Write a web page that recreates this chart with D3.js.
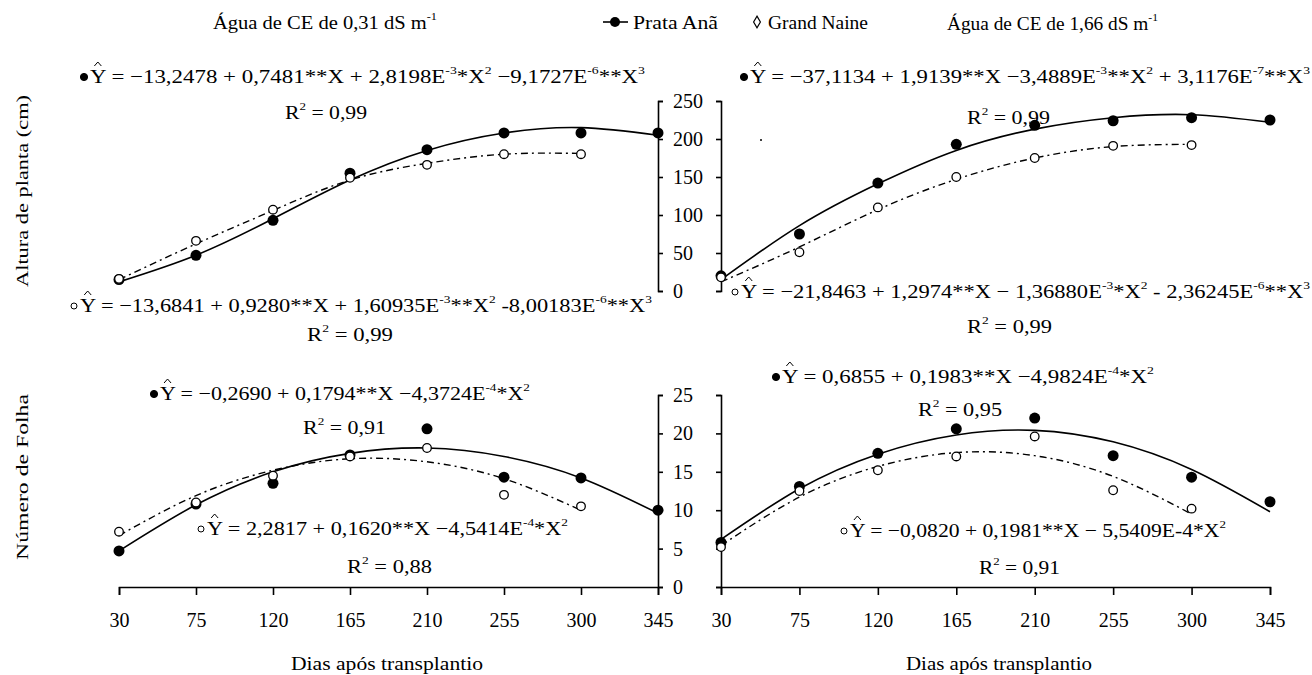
<!DOCTYPE html>
<html>
<head>
<meta charset="utf-8">
<script src="https://cdn.jsdelivr.net/npm/d3@7"></script>
<style>
body { margin: 0; background: #fff; }
svg { display: block; font-family: "Liberation Serif", "Times New Roman", serif; }
.axis path, .axis line { stroke: #000; stroke-width: 1.6; }
.axis text { font-size: 20px; fill: #000; font-family: "Liberation Serif", serif; }
</style>
</head>
<body>
<svg id="chart" width="1312" height="675"></svg>
<script>
// dias apos transplantio
var days = [30, 75, 120, 165, 210, 255, 300, 345];
var xTicks = [30, 75, 120, 165, 210, 255, 300, 345];
var alturaTicks = [0, 50, 100, 150, 200, 250];
var folhaTicks = [0, 5, 10, 15, 20, 25];

// Altura de planta, CE 0,31
var alturaPrata031 = [15, 47, 93, 155, 186, 208, 208, 208];
var alturaGrand031 = [16, 66, 107, 149, 166, 180, 180];
var fitAlturaPrata031 = [12, 47, 95, 146, 185, 208, 215, 205];
var fitAlturaGrand031 = [15, 62, 106, 146, 168, 180, 181];
// Altura de planta, CE 1,66
var alturaPrata166 = [20, 75, 142, 193, 218, 224, 228, 225];
var alturaGrand166 = [18, 51, 110, 150, 175, 191, 192];
var fitAlturaPrata166 = [15, 86, 141, 185, 213, 228, 232, 222];
var fitAlturaGrand166 = [12, 58, 107, 147, 175, 190, 193];
// Numero de folha, CE 0,31
var folhaPrata031 = [4.7, 10.8, 13.5, 17.2, 20.6, 14.3, 14.2, 10.0];
var folhaGrand031 = [7.2, 11.0, 14.5, 17.0, 18.1, 12.0, 10.5];
var fitFolhaPrata031 = [4.7, 10.7, 15.0, 17.4, 18.1, 17.0, 14.2, 9.6];
var fitFolhaGrand031 = [6.7, 11.9, 15.2, 16.7, 16.3, 14.1, 10.0];
// Numero de folha, CE 1,66
var folhaPrata166 = [5.8, 13.1, 17.4, 20.6, 22.0, 17.1, 14.3, 11.1];
var folhaGrand166 = [5.2, 12.5, 15.2, 17.0, 19.6, 12.6, 10.2];
var fitFolhaPrata166 = [6.2, 12.8, 17.3, 19.8, 20.4, 18.9, 15.3, 9.8];
var fitFolhaGrand166 = [5.4, 11.7, 15.7, 17.5, 17.1, 14.4, 9.5];

// equation texts, [ ] marks a superscript
var eqAP031 = ["Y = \u221213,2478 + 0,7481**X + 2,8198E", ["-3"], "*X", ["2"], " \u22129,1727E", ["-6"], "**X", ["3"]];
var eqAG031 = ["Y = \u221213,6841 + 0,9280**X + 1,60935E", ["-3"], "**X", ["2"], " -8,00183E", ["-6"], "**X", ["3"]];
var eqAP166 = ["Y = \u221237,1134 + 1,9139**X \u22123,4889E", ["-3"], "**X", ["2"], " + 3,1176E", ["-7"], "**X", ["3"]];
var eqAG166 = ["Y = \u221221,8463 + 1,2974**X \u2212 1,36880E", ["-3"], "*X", ["2"], " - 2,36245E", ["-6"], "**X", ["3"]];
var eqFP031 = ["Y = \u22120,2690 + 0,1794**X \u22124,3724E", ["-4"], "*X", ["2"]];
var eqFG031 = ["Y = 2,2817 + 0,1620**X \u22124,5414E", ["-4"], "*X", ["2"]];
var eqFP166 = ["Y =  0,6855 + 0,1983**X \u22124,9824E", ["-4"], "*X", ["2"]];
var eqFG166 = ["Y = \u22120,0820 + 0,1981**X \u2212 5,5409E-4*X", ["2"]];
var r2Values = ["0,99", "0,99", "0,99", "0,99", "0,91", "0,88", "0,95", "0,91"];

var svg = d3.select('#chart');

var xLeft = d3.scaleLinear().domain([30, 345]).range([119, 658]);
var xRight = d3.scaleLinear().domain([30, 345]).range([721, 1270]);
var yTop = d3.scaleLinear().domain([0, 250]).range([291, 101]);
var yBottom = d3.scaleLinear().domain([0, 25]).range([587, 395]);

// y axes: labelled one on the left panels, bare one on the right panels
function drawYAxes(y, ticks) {
    svg.append('g').attr('class', 'axis')
        .attr('transform', 'translate(658,0)')
        .call(d3.axisRight(y).tickValues(ticks).tickSize(5).tickSizeOuter(5).tickPadding(10))
        .selectAll('text').attr('text-anchor', 'start');
    svg.append('g').attr('class', 'axis')
        .attr('transform', 'translate(721,0)')
        .call(d3.axisLeft(y).tickValues(ticks).tickSize(5).tickSizeOuter(5).tickFormat(''));
}
drawYAxes(yTop, alturaTicks);
drawYAxes(yBottom, folhaTicks);

[xLeft, xRight].forEach(function (x) {
    svg.append('g').attr('class', 'axis')
        .attr('transform', 'translate(0,587)')
        .call(d3.axisBottom(x).tickValues(xTicks).tickSize(8).tickSizeOuter(8).tickPadding(18));
});

function drawSeries(x, y, fitP, fitG, ptsP, ptsG) {
    var line = function (vals) {
        return d3.line()
            .x(function (d, i) { return x(days[i]); })
            .y(function (d) { return y(d); })
            .curve(d3.curveNatural)(vals);
    };
    svg.append('path').attr('d', line(fitG))
        .attr('fill', 'none').attr('stroke', '#000')
        .attr('stroke-width', 1.4).attr('stroke-dasharray', '7,4,2,4');
    svg.append('path').attr('d', line(fitP))
        .attr('fill', 'none').attr('stroke', '#000').attr('stroke-width', 1.6);
    svg.append('g').selectAll('circle')
        .data(ptsP).enter().append('circle')
        .attr('cx', function (d, i) { return x(days[i]); })
        .attr('cy', function (d) { return y(d); })
        .attr('r', 5.5).attr('fill', '#000');
    svg.append('g').selectAll('circle')
        .data(ptsG).enter().append('circle')
        .attr('cx', function (d, i) { return x(days[i]); })
        .attr('cy', function (d) { return y(d); })
        .attr('r', 4.3).attr('fill', '#fff').attr('stroke', '#000').attr('stroke-width', 1.3);
}
drawSeries(xLeft, yTop, fitAlturaPrata031, fitAlturaGrand031, alturaPrata031, alturaGrand031);
drawSeries(xRight, yTop, fitAlturaPrata166, fitAlturaGrand166, alturaPrata166, alturaGrand166);
drawSeries(xLeft, yBottom, fitFolhaPrata031, fitFolhaGrand031, folhaPrata031, folhaGrand031);
drawSeries(xRight, yBottom, fitFolhaPrata166, fitFolhaGrand166, folhaPrata166, folhaGrand166);

// text with superscripts, stretched to a given width
function richText(parts, x, y, width, size) {
    var t = svg.append('text').attr('x', x).attr('y', y)
        .attr('font-size', size).attr('fill', '#000');
    var up = false;
    parts.forEach(function (p) {
        var sup = Array.isArray(p);
        var ts = t.append('tspan').text(sup ? p[0] : p);
        if (sup) ts.attr('font-size', size * 0.6).attr('dy', -size * 0.45);
        else if (up) ts.attr('dy', size * 0.45);
        up = sup;
    });
    if (width) t.attr('textLength', width).attr('lengthAdjust', 'spacingAndGlyphs');
    return t;
}

// equation: series marker, then Y with a hat drawn above it
function equation(filled, parts, x, y, width) {
    svg.append('circle').attr('cx', x + 4).attr('cy', y - 6).attr('r', filled ? 3.6 : 3)
        .attr('fill', filled ? '#000' : '#fff').attr('stroke', '#000').attr('stroke-width', 1);
    var t = richText(parts, x + 10, y, width - 10, 19);
    var ext = t.node().getExtentOfChar(0);
    var cx = ext.x + ext.width / 2;
    var top = ext.y - 1;
    svg.append('path')
        .attr('d', d3.line()([[cx - 3.5, top + 1], [cx, top - 3], [cx + 3.5, top + 1]]))
        .attr('fill', 'none').attr('stroke', '#000').attr('stroke-width', 1);
}

function r2(val, x, y, width) {
    richText(['R', ['2'], ' = ' + val], x, y, width, 19);
}

equation(true, eqAP031, 80, 83, 565);
r2(r2Values[0], 285, 119, 82);
equation(false, eqAG031, 70, 312, 582);
r2(r2Values[1], 307, 341, 86);
equation(true, eqAP166, 740, 83, 570);
r2(r2Values[2], 967, 124, 83);
equation(false, eqAG166, 731, 298, 579);
r2(r2Values[3], 967, 333, 85);
equation(true, eqFP031, 150, 400, 380);
r2(r2Values[4], 303, 434, 83);
equation(false, eqFG031, 197, 535, 371);
r2(r2Values[5], 347, 573, 85);
equation(true, eqFP166, 772, 383, 382);
r2(r2Values[6], 918, 416, 84);
equation(false, eqFG166, 840, 537, 386);
r2(r2Values[7], 979, 574, 81);

// stray dot in the original figure
svg.append('circle').attr('cx', 761).attr('cy', 140).attr('r', 1).attr('fill', '#000');

// titles
richText(['\u00C1gua de CE de 0,31 dS  m', ['-1']], 213, 29, 224, 19);
richText(['\u00C1gua de CE de 1,66 dS m', ['-1']], 947, 30, 211, 19);

// legend
svg.append('line').attr('x1', 603).attr('x2', 628).attr('y1', 22).attr('y2', 22)
    .attr('stroke', '#000').attr('stroke-width', 1.6);
svg.append('circle').attr('cx', 615).attr('cy', 22).attr('r', 5).attr('fill', '#000');
richText(['Prata An\u00E3'], 633, 29, 85, 19);
svg.append('path').attr('d', d3.symbol(d3.symbolDiamond, 40)())
    .attr('transform', 'translate(757,22)')
    .attr('fill', '#fff').attr('stroke', '#000').attr('stroke-width', 1.2);
richText(['Grand Naine'], 768, 29, 100, 19);

// axis titles
svg.append('text').text('Dias ap\u00F3s transplantio')
    .attr('x', 291).attr('y', 670).attr('font-size', 19)
    .attr('textLength', 192).attr('lengthAdjust', 'spacingAndGlyphs');
svg.append('text').text('Dias ap\u00F3s transplantio')
    .attr('x', 906).attr('y', 670).attr('font-size', 19)
    .attr('textLength', 186).attr('lengthAdjust', 'spacingAndGlyphs');
svg.append('text').text('Altura de planta (cm)')
    .attr('transform', 'translate(28,287) rotate(-90)')
    .attr('font-size', 17)
    .attr('textLength', 192).attr('lengthAdjust', 'spacingAndGlyphs');
svg.append('text').text('N\u00FAmero de Folha')
    .attr('transform', 'translate(28,560) rotate(-90)')
    .attr('font-size', 17)
    .attr('textLength', 166).attr('lengthAdjust', 'spacingAndGlyphs');
</script>
</body>
</html>
